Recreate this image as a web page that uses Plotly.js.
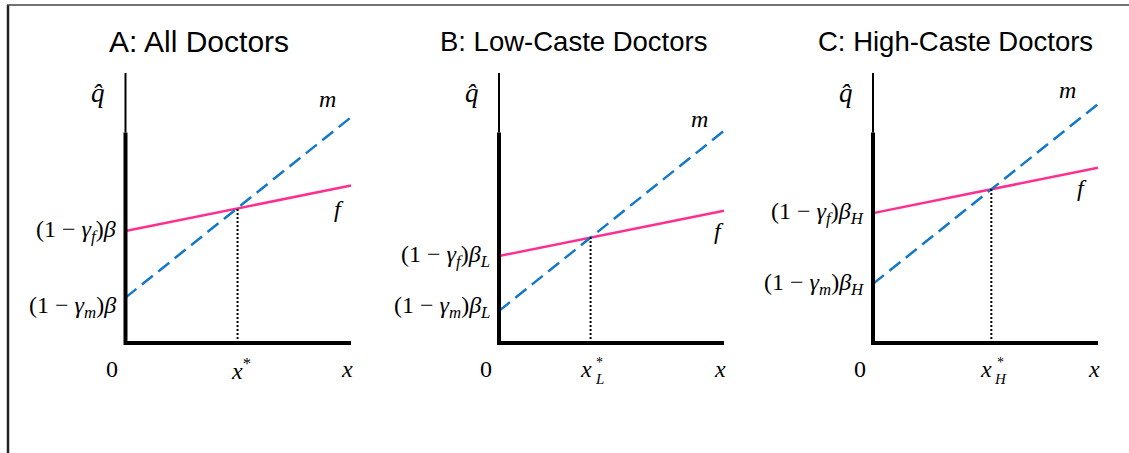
<!DOCTYPE html>
<html>
<head>
<meta charset="utf-8">
<script src="https://cdn.plot.ly/plotly-3.0.1.min.js"></script>
<style>html,body{margin:0;padding:0;background:#fff;}#chart{width:1129px;height:453px;}</style>
</head>
<body>
<div id="chart"></div>
<script>
// ---- data ----
const panelTitles = ["A: All Doctors", "B: Low-Caste Doctors", "C: High-Caste Doctors"];
const xEnds = [0, 10];
const fStart = [4.15, 3.22, 4.81];   // (1-γf)β intercepts
const fEnd   = [5.83, 4.90, 6.49];
const mStart = [1.68, 1.19, 2.19];   // (1-γm)β intercepts
const mEnd   = [8.36, 7.86, 8.85];
const xStar  = [4.97, 4.07, 5.26];
const yStar  = [4.99, 3.92, 5.70];
const betaSub = ["", "L", "H"];
const fLabels = ["(1 − <i>γ</i><sub><i>f</i></sub>)<i>β</i>", "(1 − <i>γ</i><sub><i>f</i></sub>)<i>β</i><sub><i>L</i></sub>", "(1 − <i>γ</i><sub><i>f</i></sub>)<i>β</i><sub><i>H</i></sub>"];
const mLabels = ["(1 − <i>γ</i><sub><i>m</i></sub>)<i>β</i>", "(1 − <i>γ</i><sub><i>m</i></sub>)<i>β</i><sub><i>L</i></sub>", "(1 − <i>γ</i><sub><i>m</i></sub>)<i>β</i><sub><i>H</i></sub>"];

// ---- layout geometry (pixels) ----
const W = 1129, H = 453;
const originX = [125.5, 499, 873];
const axisLenX = [225.5, 225, 225];
const originY = 343, axisLenY = 270;
const pad = 0.5;           // data-unit padding around [0,10]
const thickTop = 7.8;      // y where the thick part of the y-axis begins
const FAM = "Liberation Serif, DejaVu Serif, serif";
const mathFont = {family: FAM, size: 24, color: "#000"};
const mLabelShift = [[-23, 18], [-25, 12], [-31, 14]];
const fLabelShift = [[-12, -23], [-5, -20], [-16, -20]];
const mTickShift = [-9, 4, 0];
const titleX = [199, 573, 956];
const titleSize = [30, 27.5, 27.5];

const PINK = "#ff2f92", BLUE = "#1478c8";
const traces = [], shapes = [], annotations = [];
const layout = {
  width: W, height: H, margin: {l: 0, r: 0, t: 0, b: 0},
  paper_bgcolor: "#fff", plot_bgcolor: "rgba(0,0,0,0)", showlegend: false
};

for (let i = 0; i < 3; i++) {
  const sx = axisLenX[i] / 10, sy = axisLenY / 10;
  const xa = i === 0 ? "x" : "x" + (i + 1), ya = i === 0 ? "y" : "y" + (i + 1);
  const xk = i === 0 ? "xaxis" : "xaxis" + (i + 1), yk = i === 0 ? "yaxis" : "yaxis" + (i + 1);
  const x0 = originX[i] - pad * sx, x1 = originX[i] + (10 + pad) * sx;
  const yb = originY + pad * sy, yt = originY - (10 + pad) * sy;
  layout[xk] = {domain: [x0 / W, x1 / W], range: [-pad, 10 + pad], visible: false, fixedrange: true, anchor: ya};
  layout[yk] = {domain: [(H - yb) / H, (H - yt) / H], range: [-pad, 10 + pad], visible: false, fixedrange: true, anchor: xa};

  traces.push({x: xEnds, y: [fStart[i], fEnd[i]], xaxis: xa, yaxis: ya, mode: "lines",
    line: {color: PINK, width: 2.5}, hoverinfo: "skip"});
  traces.push({x: xEnds, y: [mStart[i], mEnd[i]], xaxis: xa, yaxis: ya, mode: "lines",
    line: {color: BLUE, width: 2.5, dash: "14px,7px"}, hoverinfo: "skip"});

  // axes
  shapes.push({type: "line", xref: xa, yref: ya, x0: 0, x1: 0, y0: thickTop, y1: 10, line: {color: "#000", width: 2}});
  shapes.push({type: "line", xref: xa, yref: ya, x0: 0, x1: 0, y0: -0.07, y1: thickTop, line: {color: "#000", width: 4}});
  shapes.push({type: "line", xref: xa, yref: ya, x0: 0, x1: 10, y0: 0, y1: 0, line: {color: "#000", width: 4}});
  // dotted drop line
  shapes.push({type: "line", xref: xa, yref: ya, x0: xStar[i], x1: xStar[i], y0: 0, y1: yStar[i], line: {color: "#000", width: 2, dash: "2px,2px"}});

  // title
  annotations.push({text: panelTitles[i], xref: "paper", yref: "paper", x: titleX[i] / W, y: (H - 41) / H,
    xanchor: "center", yanchor: "middle", showarrow: false,
    font: {family: "Liberation Sans, Arial, sans-serif", size: titleSize[i], color: "#000"}});

  const A = (o) => Object.assign({xref: xa, yref: ya, showarrow: false, font: mathFont, xanchor: "center", yanchor: "middle"}, o);
  // axis labels
  annotations.push(A({text: "<i>q̂</i>", x: 0, y: 10, xshift: -27, yshift: -20, font: {family: FAM, size: 27, color: "#000"}}));
  annotations.push(A({text: "0", x: 0, y: 0, xshift: -13, yshift: -26}));
  annotations.push(A({text: "<i>x</i>", x: 10, y: 0, xshift: -4, yshift: -26}));
  if (betaSub[i] === "") {
    annotations.push(A({text: "<i>x</i><sup>*</sup>", x: xStar[i], y: 0, xshift: 3, yshift: -26}));
  } else {
    annotations.push(A({text: "<i>x</i>", x: xStar[i], y: 0, xshift: -5, yshift: -26}));
    annotations.push(A({text: "<i>" + betaSub[i] + "</i>", x: xStar[i], y: 0, xshift: 9, yshift: -36, font: {family: FAM, size: 15, color: "#000"}}));
    annotations.push(A({text: "*", x: xStar[i], y: 0, xshift: 9, yshift: -19, font: {family: FAM, size: 14, color: "#000"}}));
  }
  // line labels
  annotations.push(A({text: "<i>m</i>", x: 10, y: mEnd[i], xshift: mLabelShift[i][0], yshift: mLabelShift[i][1]}));
  annotations.push(A({text: "<i>f</i>", x: 10, y: fEnd[i], xshift: fLabelShift[i][0], yshift: fLabelShift[i][1]}));
  // intercept labels
  annotations.push(A({text: fLabels[i], x: 0, y: fStart[i], xshift: -7, yshift: 0, xanchor: "right"}));
  annotations.push(A({text: mLabels[i], x: 0, y: mStart[i], xshift: -7, yshift: mTickShift[i], xanchor: "right"}));
}

// outer frame (left + top)
shapes.push({type: "line", xref: "paper", yref: "paper", x0: 8 / W, x1: 8 / W, y0: 0, y1: (H - 5) / H, line: {color: "#222", width: 2.5}});
shapes.push({type: "line", xref: "paper", yref: "paper", x0: 7 / W, x1: 1, y0: (H - 5) / H, y1: (H - 5) / H, line: {color: "#444", width: 1.5}});

layout.shapes = shapes;
layout.annotations = annotations;
Plotly.newPlot("chart", traces, layout, {displayModeBar: false, staticPlot: true});
</script>
</body>
</html>
